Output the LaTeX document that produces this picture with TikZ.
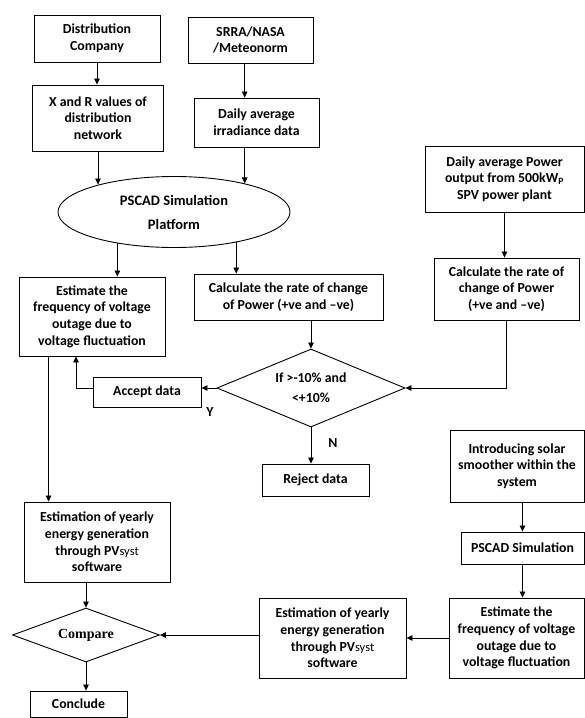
\documentclass[tikz,border=0pt]{standalone}
\usepackage{fontspec}
\setmainfont{Carlito}
\newfontfamily\cmpfont{Liberation Serif}
\usetikzlibrary{shapes.geometric,arrows.meta,calc}
\tikzset{
box/.style={
  draw,line width=0.9pt,rectangle,align=center,inner sep=1pt,
  font=\fontsize{13.8}{16.7}\selectfont\bfseries},
oval/.style={
  draw,line width=0.9pt,ellipse,align=center,inner sep=0pt,
  font=\fontsize{14.5}{24}\selectfont\bfseries},
test/.style={
  draw,line width=0.9pt,diamond,align=center,inner sep=0pt,
  font=\fontsize{13.8}{20}\selectfont\bfseries},
arr/.style={line width=0.8pt,-{Triangle[length=6pt,width=5.5pt]}},
lbl/.style={font=\fontsize{13.8}{14}\selectfont\bfseries}}
\newcommand{\pvs}{PV{\fontsize{12.5}{14}\selectfont\mdseries syst}}

\begin{document}
\begin{tikzpicture}[x=1pt,y=-1pt]
\useasboundingbox (0,0) rectangle (585,718);
% inputs
\node[box,minimum width=126,minimum height=47] (dist) at (97,38.5) {Distribution\\Company};
\node[box,minimum width=125,minimum height=46] (srra) at (250.5,40) {SRRA/NASA\\/Meteonorm};
\node[box,minimum width=131,minimum height=66] (xr) at (98,118) {X and R values of\\distribution\\network};
\node[box,minimum width=125,minimum height=49] (irr) at (256.5,122.5) {Daily average\\irradiance data};
\node[oval,minimum width=232,minimum height=71] (pscad) at (174,212) {PSCAD Simulation\\Platform};
\node[box,minimum width=159,minimum height=66] (dpow) at (504.5,179) {Daily average Power\\output from 500kW\textsubscript{P}\\SPV power plant};
% middle part
\node[box,minimum width=146,minimum height=79] (est1) at (92,316.5) {Estimate the\\frequency of voltage\\outage due to\\voltage fluctuation};
\node[box,minimum width=189,minimum height=46] (calc1) at (288.5,297) {Calculate the rate of change\\of Power (+ve and –ve)};
\node[box,minimum width=145,minimum height=62] (calc2) at (506.5,289) {Calculate the rate of\\change of Power\\(+ve and –ve)};
\node[test,minimum width=188,minimum height=78,aspect=2.4] (cond) at (311,388) {If >-10\% and\\<+10\%};
\node[box,minimum width=108,minimum height=30] (accept) at (147,392) {Accept data};
\node[box,minimum width=107,minimum height=32] (reject) at (315.5,480) {Reject data};
\node[lbl] (yes) at (210,412) {Y};
\node[lbl] (no) at (333,443) {N};
% smoother branch
\node[box,minimum width=134,minimum height=72] (intro) at (517,466) {Introducing solar\\smoother within the\\system};
\node[box,minimum width=123,minimum height=32] (psim) at (522.5,548) {PSCAD Simulation};
\node[box,minimum width=135,minimum height=80] (est2) at (516.5,638) {Estimate the\\frequency of voltage\\outage due to\\voltage fluctuation};
\node[box,minimum width=147,minimum height=80] (yr2) at (332.5,638) {Estimation of yearly\\energy generation\\through \pvs\\software};
% bottom left
\node[box,minimum width=146,minimum height=80] (yr1) at (97,542) {Estimation of yearly\\energy generation\\through \pvs\\software};
\node[test,minimum width=147,minimum height=54,aspect=2.7,font=\fontsize{14}{15}\selectfont\cmpfont\bfseries] (cmp) at (86,635) {Compare};
\node[box,minimum width=97,minimum height=26] (concl) at (78.5,704) {Conclude};

\draw[arr] (dist.south) -- (dist.south |- xr.north);
\draw[arr] (srra.south -| pscad.22) -- (irr.north -| pscad.22);
\draw[arr] (xr.south) -- (xr.south |- pscad.160);
\draw[arr] (irr.south -| pscad.22) -- (pscad.22);
\draw[arr] (pscad.-151) -- (pscad.-151 |- est1.north);
\draw[arr] (pscad.-26) -- (pscad.-26 |- calc1.north);
\draw[arr] (dpow.south) -- (dpow.south |- calc2.north);
\draw[arr] (cond.north |- calc1.south) -- (cond.north);
\draw[arr] (calc2.south) |- (cond.east);
\draw[arr] (cond.west) -- (cond.west -| accept.east);
\draw[arr] (cond.west -| accept.west) -| ($(est1.south)+(-16,0)$);
\draw[arr] (cond.south) -- (cond.south |- reject.north);
\draw[arr] ($(est1.south west)+(30,0)$) -- ($(yr1.north west)+(25,0)$);
\draw[arr] (cmp.north |- yr1.south) -- (cmp.north);
\draw[arr] (intro.south -| psim.north) -- (psim.north);
\draw[arr] (psim.south) -- (psim.south |- est2.north);
\draw[arr] (est2.west) -- (est2.west -| yr2.east);
\draw[arr] (yr2.west |- cmp.east) -- (cmp.east);
\draw[arr] (cmp.south) -- (cmp.south |- concl.north);
\end{tikzpicture}
\end{document}
